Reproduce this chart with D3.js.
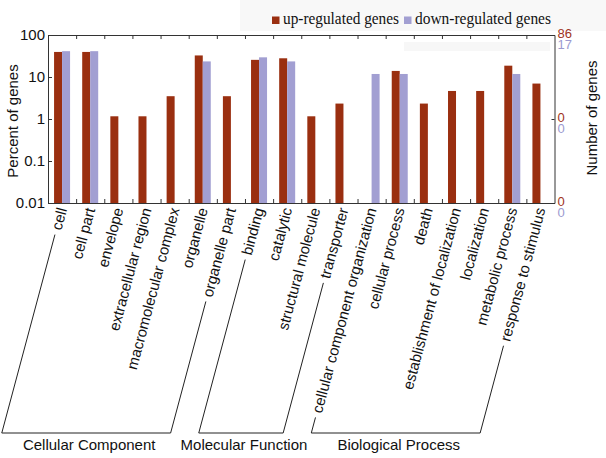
<!DOCTYPE html>
<html><head><meta charset="utf-8">
<script src="https://cdn.jsdelivr.net/npm/d3@7"></script>
<style>body{margin:0;background:#fff} svg{display:block}</style>
</head><body><svg id="c" width="606" height="458"></svg>
<script>
const categories = ["cell","cell part","envelope","extracellular region","macromolecular complex","organelle","organelle part","binding","catalytic","structural molecule","transporter","cellular component organization","cellular process","death","establishment of localization","localization","metabolic process","response to stimulus"];
const upPercent   = [39.5, 39.5, 1.16, 1.16, 3.49, 32.6, 3.49, 25.6, 27.9, 1.16, 2.33, null, 13.95, 2.33, 4.65, 4.65, 18.6, 6.98];
const downPercent = [41.2, 41.2, null, null, null, 23.5, null, 29.4, 23.5, null, null, 11.8, 11.8, null, null, null, 11.8, null];
const seriesNames = ["up-regulated genes","down-regulated genes"];
const yTickValues = [0.01, 0.1, 1, 10, 100];
const yTickLabels = ["0.01","0.1","1","10","100"];
const rightTickValues = [100, 1, 0.01];
const upCountLabels = ["86","0","0"];
const downCountLabels = ["17","0","0"];
const groupNames = ["Cellular Component","Molecular Function","Biological Process"];
const groupFirst = [0, 7, 11];
const groupLast  = [6, 10, 17];

const upColor = "#9a2f10", downColor = "#a29fd2";
const upText = "#a0341c", downText = "#9c9ad0";
const axisColor = "#333";
const sans = "'Liberation Sans', Arial, Helvetica, sans-serif";
const serif = "'Liberation Serif', 'Times New Roman', serif";

const svg = d3.select("#c");
const m = {l: 48, r: 554.5, t: 35, b: 203};

// faint background artifacts
svg.append("rect").attr("x",240).attr("y",0).attr("width",366).attr("height",31).attr("fill","#f8f8f8");
svg.append("rect").attr("x",404).attr("y",42).attr("width",146).attr("height",9).attr("fill","#f7f7f7");

const x = d3.scaleBand().domain(categories).range([m.l, m.r]).padding(0);
const xb = d3.scaleLinear().domain([0, categories.length]).range([m.l, m.r]);
const sub = d3.scaleBand().domain(["up","down"]).range([x.bandwidth()/2 - 8, x.bandwidth()/2 + 8]);
const y = d3.scaleLog().domain([0.01, 100]).range([m.b, m.t]);

// bars
const g = svg.append("g");
categories.forEach((c, i) => {
  [["up", upPercent[i], upColor], ["down", downPercent[i], downColor]].forEach(([k, v, col]) => {
    if (v == null) return;
    g.append("rect")
      .attr("x", x(c) + sub(k)).attr("width", sub.bandwidth())
      .attr("y", y(v)).attr("height", m.b - y(v))
      .attr("fill", col);
  });
});

function styleAxis(sel) {
  sel.selectAll("path,line").attr("stroke", axisColor).attr("stroke-width", 1);
  sel.selectAll("text").attr("fill", "#111").style("font-family", sans);
}

// left axis
const la = svg.append("g").attr("transform", `translate(${m.l},0)`)
  .call(d3.axisLeft(y).tickValues(yTickValues).tickFormat((d,i)=>yTickLabels[i]).tickSizeInner(-4).tickSizeOuter(0).tickPadding(3));
styleAxis(la);
la.selectAll("text").style("font-size","15px");

// top axis (frame)
const ta = svg.append("g").attr("transform", `translate(0,${m.t})`)
  .call(d3.axisTop(xb).tickValues(d3.range(1, categories.length)).tickFormat("").tickSizeInner(-4).tickSizeOuter(0));
styleAxis(ta);

// bottom axis ticks
const ba = svg.append("g").attr("transform", `translate(0,${m.b})`)
  .call(d3.axisBottom(xb).tickValues(d3.range(1, categories.length)).tickFormat("").tickSizeInner(-4).tickSizeOuter(0));
styleAxis(ba);

// bottom category labels
const ANG = 75;
const labelOffset = 5;
const bl = svg.append("g").attr("transform", `translate(0,${m.b})`)
  .call(d3.axisBottom(x).tickSize(0).tickPadding(0));
bl.select(".domain").remove();
bl.selectAll("text")
  .attr("x", 0).attr("y", 0).attr("dy", "0.35em")
  .attr("text-anchor", "end")
  .attr("transform", `translate(0,${labelOffset}) rotate(${-ANG})`)
  .attr("fill", "#111")
  .style("font-family", sans).style("font-size", "15px");

// right axis
const ra = svg.append("g").attr("transform", `translate(${m.r},0)`)
  .call(d3.axisRight(y).tickValues([1]).tickFormat("").tickSizeInner(-3).tickSizeOuter(0));
styleAxis(ra);
rightTickValues.forEach((v, i) => {
  svg.append("text").attr("x", m.r + 3).attr("y", y(v) + 3)
    .attr("fill", upText).style("font-family", sans).style("font-size", "13px").text(upCountLabels[i]);
  svg.append("text").attr("x", m.r + 3).attr("y", y(v) + 14)
    .attr("fill", downText).style("font-family", sans).style("font-size", "13px").text(downCountLabels[i]);
});

// axis titles
svg.append("text").attr("transform", "translate(13,121) rotate(-90)")
  .attr("text-anchor","middle").attr("dy","0.35em")
  .style("font-family", sans).style("font-size","15px").attr("fill","#111").text("Percent of genes");
svg.append("text").attr("transform", "translate(592,118) rotate(-90)")
  .attr("text-anchor","middle").attr("dy","0.35em")
  .style("font-family", sans).style("font-size","15px").attr("fill","#111").text("Number of genes");

// group brackets
const labelNodes = bl.selectAll("text").nodes();
const rad = ANG * Math.PI / 180;
const ux = -Math.cos(rad), uy = Math.sin(rad);
const anchorY = m.b + labelOffset;
const bracketY = 433;
function legPoints(i) {
  const cx = x(categories[i]) + x.bandwidth()/2;
  const L = labelNodes[i].getComputedTextLength() + 5;
  const sx = cx + ux * L, sy = anchorY + uy * L;
  const t = (bracketY - anchorY) / uy;
  const ex = cx + ux * t;
  return {sx, sy: Math.min(sy, bracketY - 6), ex};
}
groupNames.forEach((name, gi) => {
  const a = legPoints(groupFirst[gi]), b = legPoints(groupLast[gi]);
  const p = d3.path();
  const aStartX = a.ex + (bracketY - a.sy) / uy * (-ux);
  const bStartX = b.ex + (bracketY - b.sy) / uy * (-ux);
  p.moveTo(aStartX, a.sy); p.lineTo(a.ex, bracketY); p.lineTo(b.ex, bracketY); p.lineTo(bStartX, b.sy);
  svg.append("path").attr("d", p.toString()).attr("fill","none").attr("stroke","#222").attr("stroke-width",1);
  svg.append("text").attr("x", (a.ex + b.ex)/2 + 3).attr("y", 450)
    .attr("text-anchor","middle").style("font-family", sans).style("font-size","15px").attr("fill","#111").text(name);
});

// legend
const legendWidths = [116, 136];
const lg = svg.append("g");
let lx = 272;
seriesNames.forEach((s, i) => {
  lg.append("rect").attr("x", lx).attr("y", 16.5).attr("width", 7.5).attr("height", 7.5).attr("fill", i === 0 ? upColor : downColor);
  lg.append("text").attr("x", lx + 11).attr("y", 24)
    .attr("textLength", legendWidths[i]).attr("lengthAdjust", "spacingAndGlyphs")
    .style("font-family", serif).style("font-size","16.5px").attr("fill","#111").text(s);
  lx = lx + 11 + legendWidths[i] + 5;
});
</script></body></html>
